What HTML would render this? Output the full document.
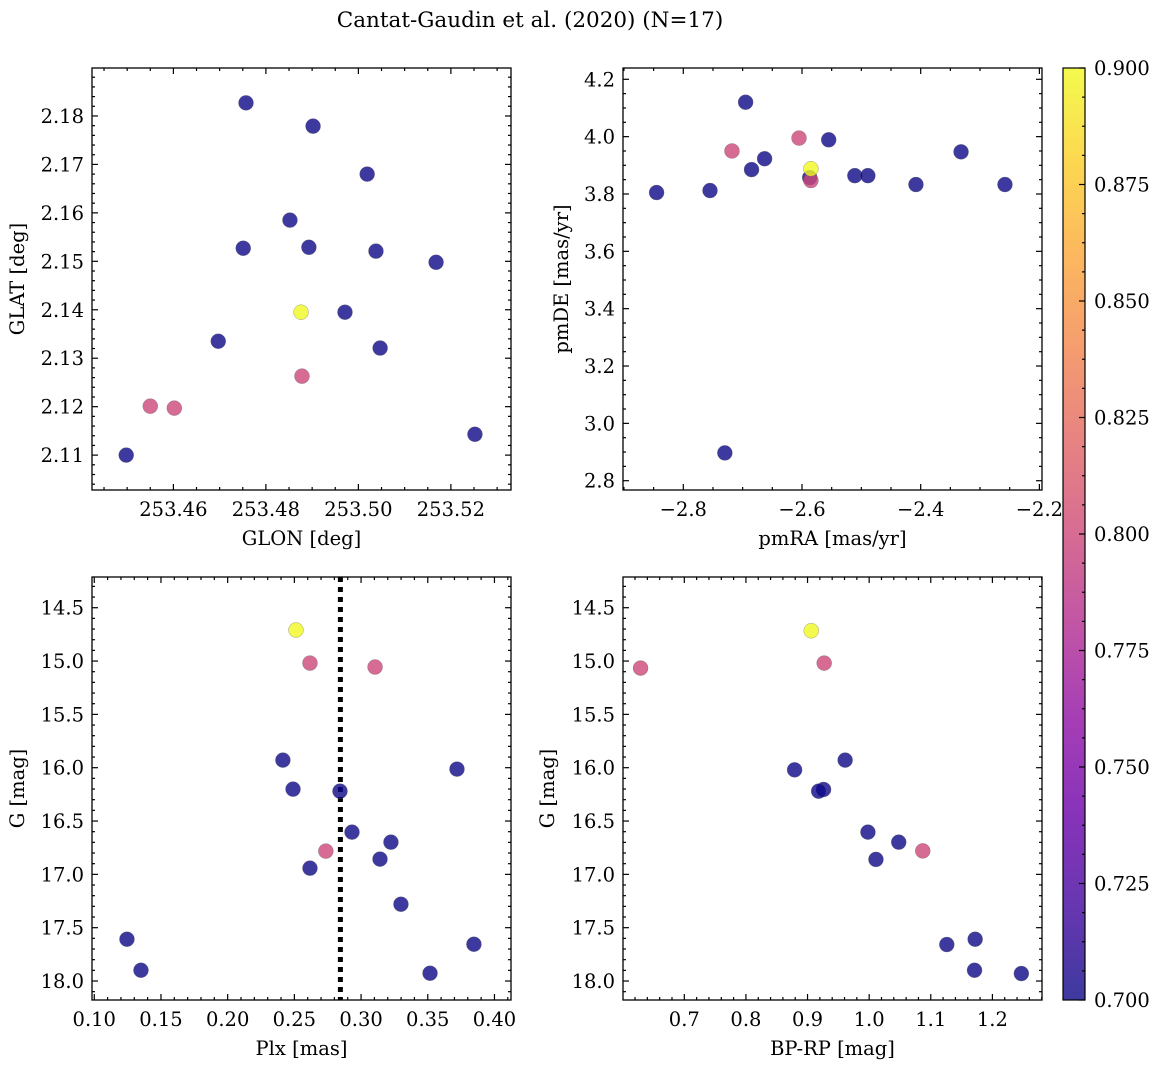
<!DOCTYPE html>
<html><head><meta charset="utf-8"><style>
body{margin:0;background:#fff;}
svg{display:block;font-family:"DejaVu Serif","Liberation Serif",serif;}
</style></head><body>
<svg id="fig" width="1160" height="1067" viewBox="0 0 1160 1067">
<defs>
<linearGradient id="plasma" x1="0" y1="1" x2="0" y2="0">
<stop offset="0" stop-color="#0d0887"/><stop offset="0.1" stop-color="#41049d"/><stop offset="0.2" stop-color="#6a00a8"/><stop offset="0.3" stop-color="#8f0da4"/><stop offset="0.4" stop-color="#b12a90"/><stop offset="0.5" stop-color="#cc4778"/><stop offset="0.6" stop-color="#e16462"/><stop offset="0.7" stop-color="#f2844b"/><stop offset="0.8" stop-color="#fca636"/><stop offset="0.9" stop-color="#fcce25"/><stop offset="1" stop-color="#f0f921"/>
</linearGradient>
</defs>
<text x="530" y="27" font-size="21.5" text-anchor="middle">Cantat-Gaudin et al. (2020) (N=17)</text>
</svg>
<script>
// ---- data ----
const glon = [253.4757,253.4902,253.5019,253.4852,253.4751,253.4893,253.5038,253.5168,253.4876,253.4971,253.4697,253.5047,253.4878,253.4550,253.4602,253.5252,253.4498];
const glat = [2.1827,2.1779,2.1680,2.1585,2.1527,2.1529,2.1521,2.1498,2.1395,2.1395,2.1335,2.1321,2.1263,2.1201,2.1197,2.1143,2.1100];
const probPos = [0.7,0.7,0.7,0.7,0.7,0.7,0.7,0.7,0.9,0.7,0.7,0.7,0.8,0.8,0.8,0.7,0.7];
const pmra = [-2.695,-2.605,-2.555,-2.718,-2.332,-2.663,-2.587,-2.585,-2.685,-2.511,-2.489,-2.845,-2.755,-2.408,-2.258,-2.730,-2.585];
const pmde = [4.120,3.995,3.989,3.950,3.947,3.923,3.857,3.847,3.885,3.864,3.864,3.805,3.812,3.833,3.833,2.897,3.888];
const probPm = [0.7,0.8,0.7,0.8,0.7,0.7,0.7,0.8,0.7,0.7,0.7,0.7,0.7,0.7,0.7,0.7,0.9];
const plx = [0.2512,0.2617,0.3105,0.2414,0.3719,0.2490,0.2842,0.2932,0.3224,0.2736,0.3142,0.2617,0.3299,0.1245,0.3846,0.1350,0.3517];
const gmagPlx = [14.709,15.019,15.056,15.929,16.013,16.201,16.220,16.604,16.698,16.782,16.857,16.942,17.280,17.608,17.655,17.899,17.927];
const probPlx = [0.9,0.8,0.8,0.7,0.7,0.7,0.7,0.7,0.7,0.8,0.7,0.7,0.7,0.7,0.7,0.7,0.7];
const meanPlx = 0.2845;
const bprp = [0.906,0.927,0.629,0.961,0.879,0.926,0.918,0.998,1.048,1.087,1.011,1.126,1.172,1.171,1.247];
const gmagCmd = [14.716,15.019,15.066,15.929,16.020,16.204,16.220,16.604,16.698,16.780,16.860,17.658,17.608,17.899,17.930];
const probCmd = [0.9,0.8,0.8,0.7,0.7,0.7,0.7,0.7,0.7,0.8,0.7,0.7,0.7,0.7,0.7];
const cbarTicks = [0.700,0.725,0.750,0.775,0.800,0.825,0.850,0.875,0.900];

const NS="http://www.w3.org/2000/svg";
const svg=document.getElementById('fig');
const FS=19.5;
function mk(tag,attrs,parent){const e=document.createElementNS(NS,tag);for(const k in attrs)e.setAttribute(k,attrs[k]);(parent||svg).appendChild(e);return e;}
const stops=[[13,8,135],[65,4,157],[106,0,168],[143,13,164],[177,42,144],[204,71,120],[225,100,98],[242,132,75],[252,166,54],[252,206,37],[240,249,33]];
function plasma(p){let t=Math.max(0,Math.min(1,(p-0.7)/0.2))*10;let i=Math.min(9,Math.floor(t));let f=t-i;const a=stops[i],b=stops[i+1];return 'rgb('+a.map((v,k)=>Math.round(v+(b[k]-v)*f)).join(',')+')';}
function fmtNum(v,d){const s=Math.abs(v).toFixed(d);return (v<-1e-9?'\u2212':'')+s;}

function panel(o){
  const g=mk('g',{});
  
  
  const X=v=>o.x0+(v-o.xmin)/(o.xmax-o.xmin)*(o.x1-o.x0);
  const Y=o.yinv? v=>o.y0+(v-o.ymin)/(o.ymax-o.ymin)*(o.y1-o.y0) : v=>o.y1-(v-o.ymin)/(o.ymax-o.ymin)*(o.y1-o.y0);
  const tg=mk('g',{stroke:'#000','stroke-width':1.2},g);
  function ticks(min,max,step,nsub,fn){const lo=Math.ceil(min/step*nsub-1e-6),hi=Math.floor(max/step*nsub+1e-6);for(let i=lo;i<=hi;i++){fn(i*step/nsub,i%nsub===0);}}
  ticks(o.xmin,o.xmax,o.xstep,o.xsub,(v,maj)=>{const x=X(v),L=maj?6:3;
    mk('line',{x1:x,x2:x,y1:o.y1,y2:o.y1-L},tg);mk('line',{x1:x,x2:x,y1:o.y0,y2:o.y0+L},tg);
    if(maj){const t=mk('text',{x:x,y:o.y1+26,'font-size':FS,'text-anchor':'middle'},g);t.textContent=fmtNum(v,o.xd);
      }});
  ticks(o.ymin,o.ymax,o.ystep,o.ysub,(v,maj)=>{const y=Y(v),L=maj?6:3;
    mk('line',{x1:o.x0,x2:o.x0+L,y1:y,y2:y},tg);mk('line',{x1:o.x1,x2:o.x1-L,y1:y,y2:y},tg);
    if(maj){const t=mk('text',{x:o.x0-8,y:y+7,'font-size':FS,'text-anchor':'end'},g);t.textContent=fmtNum(v,o.yd);
      }});
  if(o.vline!==undefined){const l=mk('line',{x1:X(o.vline),x2:X(o.vline),y1:o.y0,y2:o.y1,stroke:'#000','stroke-width':5,'stroke-dasharray':'5,5'},g);
    }
  for(let i=0;i<o.xs.length;i++){
    const c=mk('circle',{cx:X(o.xs[i]),cy:Y(o.ys[i]),r:7.5,fill:plasma(o.ps[i]),'fill-opacity':0.8,stroke:'#666','stroke-width':0.5,'stroke-opacity':0.6},g);
    
    
  }
  const fr=mk('rect',{x:o.x0,y:o.y0,width:o.x1-o.x0,height:o.y1-o.y0,fill:'none',stroke:'#000','stroke-width':1.3},g);
  
  const xl=mk('text',{x:(o.x0+o.x1)/2,y:o.y1+55,'font-size':FS,'text-anchor':'middle'},g);xl.textContent=o.xlabel;
  
  const yx=o.ylx,yy=(o.y0+o.y1)/2;
  const yl=mk('text',{x:yx,y:yy,'font-size':FS,'text-anchor':'middle',transform:'rotate(-90 '+yx+' '+yy+')'},g);yl.textContent=o.ylabel;
  
}
panel({name:'position-panel',x0:92,x1:511,y0:68,y1:490,xmin:253.4424,xmax:253.5330,ymin:2.1028,ymax:2.1899,xstep:0.02,xsub:4,ystep:0.01,ysub:5,xd:2,yd:2,xs:glon,ys:glat,ps:probPos,xlabel:'GLON [deg]',ylabel:'GLAT [deg]',ylx:24});
panel({name:'proper-motion-panel',x0:623,x1:1042,y0:68,y1:490,xmin:-2.9016,xmax:-2.1956,ymin:2.7676,ymax:4.2394,xstep:0.2,xsub:4,ystep:0.2,ysub:4,xd:1,yd:1,xs:pmra,ys:pmde,ps:probPm,xlabel:'pmRA [mas/yr]',ylabel:'pmDE [mas/yr]',ylx:568});
panel({name:'parallax-panel',x0:92,x1:511,y0:577,y1:1000,xmin:0.0983,xmax:0.4124,ymin:14.212,ymax:18.178,yinv:true,xstep:0.05,xsub:5,ystep:0.5,ysub:5,xd:2,yd:1,xs:plx,ys:gmagPlx,ps:probPlx,vline:meanPlx,xlabel:'Plx [mas]',ylabel:'G [mag]',ylx:24});
panel({name:'cmd-panel',x0:623,x1:1042,y0:577,y1:1000,xmin:0.6005,xmax:1.2805,ymin:14.212,ymax:18.178,yinv:true,xstep:0.1,xsub:5,ystep:0.5,ysub:5,xd:1,yd:1,xs:bprp,ys:gmagCmd,ps:probCmd,xlabel:'BP-RP [mag]',ylabel:'G [mag]',ylx:554});
// colorbar
const cb=mk('g',{});


mk('rect',{x:1063,y:68,width:22,height:932,fill:'url(#plasma)','fill-opacity':0.8},cb);
mk('rect',{x:1063,y:68,width:22,height:932,fill:'none',stroke:'#000','stroke-width':1.2},cb);
const CY=v=>1000-(v-0.7)/0.2*932;
for(let i=0;i<=32;i++){const v=0.7+i*0.00625,y=CY(v),maj=i%4===0;mk('line',{x1:1085,x2:1085-(maj?6:3),y1:y,y2:y,stroke:'#000','stroke-width':1.2},cb);}
cbarTicks.forEach(v=>{const t=mk('text',{x:1094,y:CY(v)+7,'font-size':FS},cb);t.textContent=v.toFixed(3);
  
  });
</script>
</body></html>
